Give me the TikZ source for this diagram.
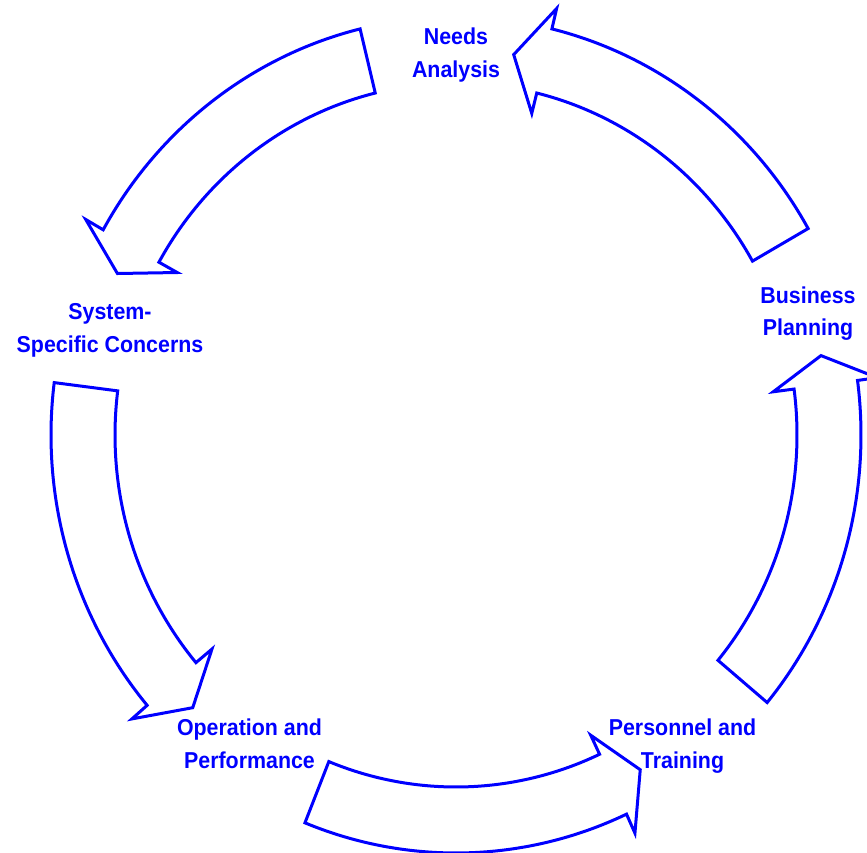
\documentclass[tikz,border=0pt]{standalone}
\usepackage{fontspec}
\newfontfamily\lblfont{Liberation Sans}[FakeStretch=0.93]
\definecolor{cycblue}{RGB}{0,0,255}
\tikzset{
  cycarrowstyle/.style={draw=cycblue, fill=white, line width=3pt, line join=miter, miter limit=10},
  lbl/.style={text=cycblue, font=\lblfont\bfseries\fontsize{23}{33}\selectfont, anchor=base, inner sep=0pt}
}
% #1 tail angle, #2 end of shaft angle, #3 tip angle
\newcommand\cycarrow[3]{%
  \draw[cycarrowstyle] (#1:405pt and 418pt)
    arc[start angle=#1, end angle=#2, x radius=405pt, y radius=418pt]
    -- (#2:425pt and 439pt)
    -- (#3:373pt and 385pt)
    -- (#2:320pt and 331pt)
    -- (#2:341pt and 352pt)
    arc[start angle=#2, end angle=#1, x radius=341pt, y radius=352pt]
    -- cycle;}
\begin{document}
\begin{tikzpicture}[x=1pt,y=1pt]
\useasboundingbox (0,0) rectangle (867,853);
\clip (0,0) rectangle (867,853);
\coordinate (ctr) at (456,418);
\begin{scope}[shift={(ctr)}]
  \cycarrow{29.6}{76.3}{81.1}
  \cycarrow{103.7}{150.6}{155.2}
  \cycarrow{172.8}{220.3}{225.1}
  \cycarrow{248.1}{294.9}{299.6}
  \cycarrow{320.2}{367.5}{371.9}
\end{scope}
\node[lbl] (needsA) at (456,808.7) {Needs};
\node[lbl] (needsB) at (456,775.5) {Analysis};
\node[lbl] (busA) at (808,549.7) {Business};
\node[lbl] (busB) at (808,517) {Planning};
\node[lbl] (sysA) at (110,533) {System-};
\node[lbl] (sysB) at (110,500.5) {Specific Concerns};
\node[lbl] (opA) at (249.5,117.3) {Operation and};
\node[lbl] (opB) at (249.5,84.7) {Performance};
\node[lbl] (perA) at (682.5,117.3) {Personnel and};
\node[lbl] (perB) at (682.5,84) {Training};
\end{tikzpicture}
\end{document}
